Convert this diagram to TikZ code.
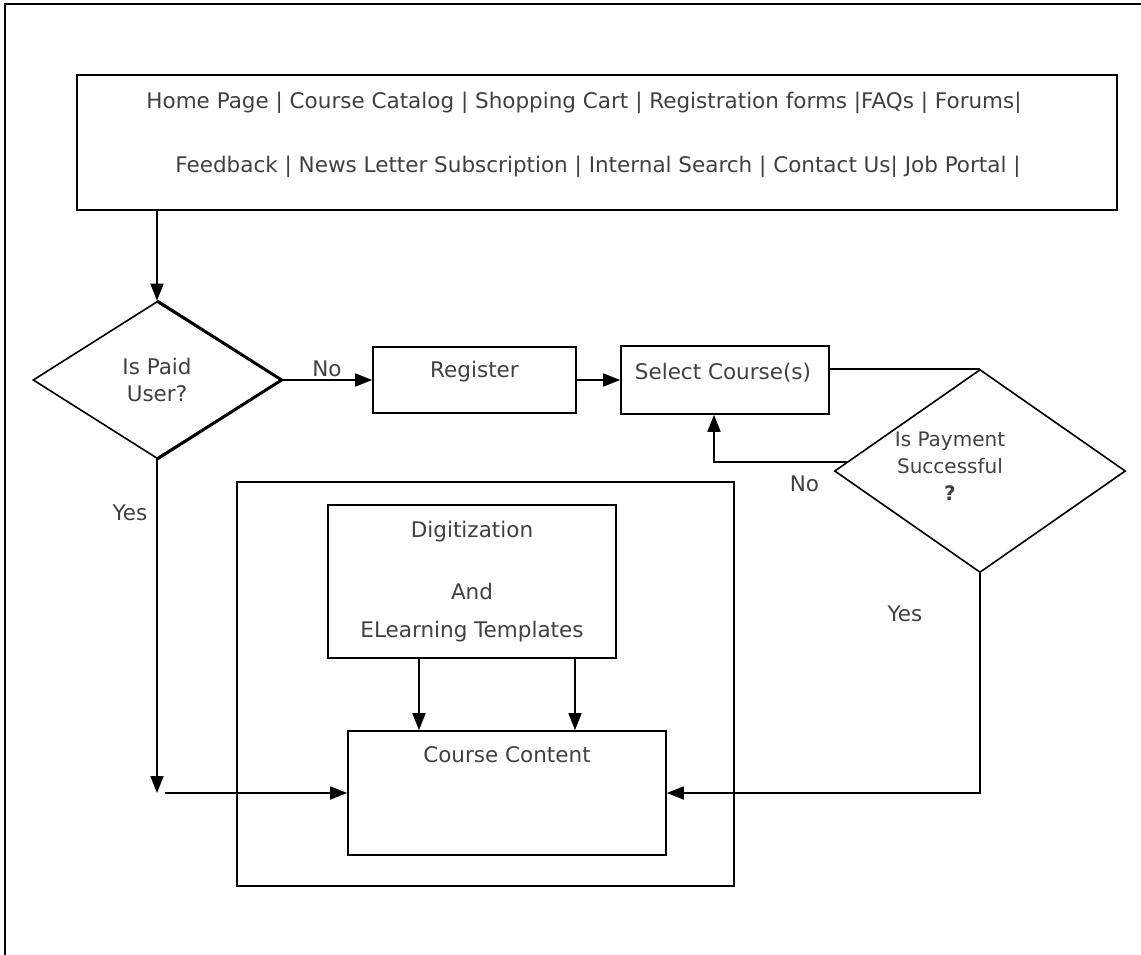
\documentclass[tikz,border=0pt]{standalone}
\usepackage{fontspec}
\setmainfont{DejaVu Sans}
\usetikzlibrary{shapes.geometric,arrows.meta,positioning}
\definecolor{txtgray}{HTML}{404040}

\begin{document}
\begin{tikzpicture}[x=1pt, y=-1pt, line width=1.6pt, >={Triangle[length=17pt,width=13pt]},
  box/.style={rectangle, draw, inner sep=0pt},
  decision/.style={diamond, draw, inner sep=0pt, align=center, text=txtgray, font=\fontsize{21.5}{27}\selectfont},
  txt/.style={text=txtgray, font=\fontsize{21.5}{24}\selectfont, inner sep=0pt, anchor=base}]
  \useasboundingbox (0,0) rectangle (1141,955);
  \draw[line width=2.4pt] (5,955) -- (5,4) -- (1141,4);

  % menu bar
  \node[box, minimum width=1040, minimum height=135] (menu) at (597,142.5) {};
  \node[txt] (menu1) at (584,109) {Home Page | Course Catalog | Shopping Cart | Registration forms |FAQs | Forums|};
  \node[txt] (menu2) at (598,172) {Feedback | News Letter Subscription | Internal Search | Contact Us| Job Portal |};

  % decisions and steps
  \node[decision, minimum width=248, minimum height=157] (paid) at (157,380) {Is Paid\\User?};
  \draw[line width=2.8pt] (paid.north) -- (paid.east) -- (paid.south);
  \node[box, minimum width=203, minimum height=66] (reg) at (474.5,380) {};
  \node[txt] (regt) at ([yshift=-31pt]reg.north) {Register};
  \node[box, minimum width=208, minimum height=68] (sel) at (725,380) {};
  \node[txt] (selt) at ([xshift=-2pt, yshift=-34pt]sel.north) {Select Course(s)};
  \node[decision, minimum width=291, minimum height=203] (pay) at (980,471) {};
  \node[txt, align=center, anchor=center, font=\fontsize{20}{27}\selectfont] (payt) at (950,466) {Is Payment\\Successful\\\textbf{?}};

  % content module
  \node[box, minimum width=497, minimum height=404] (mod) at (485.5,684) {};
  \node[box, minimum width=288, minimum height=153] (dig) at (472,581.5) {};
  \node[txt] (dig1) at ([yshift=-33pt]dig.north) {Digitization};
  \node[txt] (dig2) at ([yshift=-95pt]dig.north) {And};
  \node[txt] (dig3) at ([yshift=-133pt]dig.north) {ELearning Templates};
  \node[box, minimum width=318, minimum height=124] (cc) at (507,793) {};
  \node[txt] (cct) at ([yshift=-32pt]cc.north) {Course Content};

  \coordinate (yj) at (paid.south |- cc.west);

  % connectors
  \draw[->] (paid.north |- menu.south) -- (paid.north);
  \draw[->] (paid.east) -- node[txt, yshift=4pt] {No} (reg.west);
  \draw[->] (reg.east) -- (sel.west);
  \draw (sel.east |- pay.north) -- (pay.north);
  \draw[->] (pay.176) -| node[txt, pos=0.16, yshift=-30pt] {No} ([xshift=-11pt]sel.south);
  \draw[->] (paid.south) -- node[txt, pos=0.183, xshift=-27pt] {Yes} (yj);
  \draw[->] ([xshift=8pt]yj) -- (cc.west);
  \draw[->] ([xshift=-53pt]dig.south) -- ([xshift=-53pt]dig.south |- cc.north);
  \draw[->] ([xshift=103pt]dig.south) -- ([xshift=103pt]dig.south |- cc.north);
  \draw[->] (pay.south) |- node[txt, pos=0.109, xshift=-75pt] {Yes} (cc.east);
\end{tikzpicture}
\end{document}
